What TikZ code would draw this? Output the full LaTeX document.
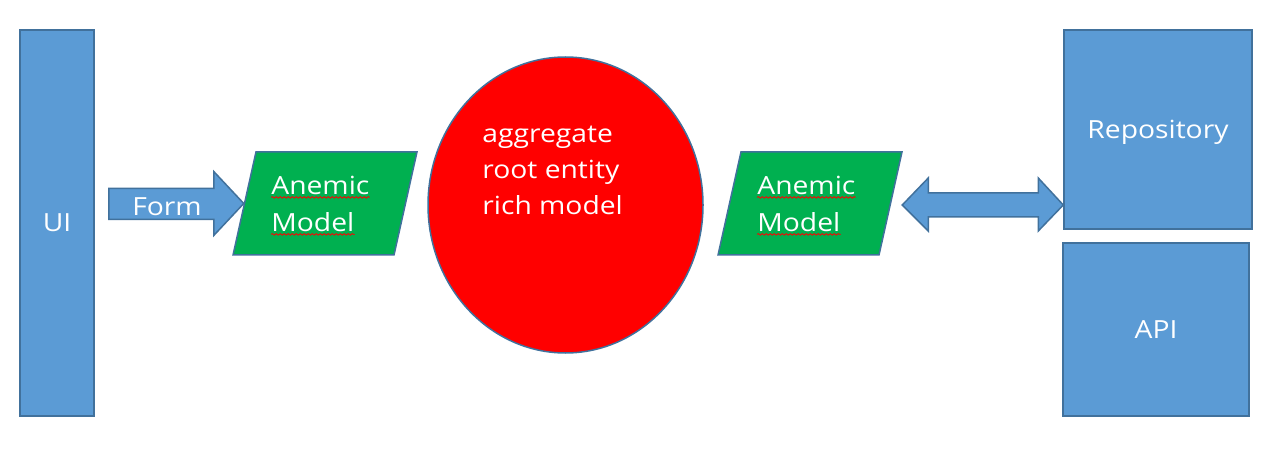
\documentclass[tikz,border=0pt]{standalone}
\usepackage{fontspec}
\setmainfont[FakeStretch=1.13]{Open Sans}
\usepackage{tikz}
\usetikzlibrary{shapes.geometric, decorations.pathmorphing}

\definecolor{boxblue}{HTML}{5B9BD5}
\definecolor{edgeblue}{HTML}{41719C}
\definecolor{modelgreen}{HTML}{00B050}

\begin{document}
\begin{tikzpicture}[
  x=0.5pt, y=-0.5pt,
  box/.style={draw=edgeblue, line width=0.75pt, fill=boxblue, text=white,
              text depth=0pt, font=\fontsize{12.5}{15}\selectfont},
  model/.style={rectangle, xslant=0.223, draw=edgeblue, line width=0.75pt,
                fill=modelgreen, minimum width=80.5pt, minimum height=51.5pt, inner sep=0pt},
  txt/.style={text=white, inner sep=0pt, font=\fontsize{12.5}{18}\selectfont},
  fat/.style={draw=edgeblue, line width=0.75pt, fill=boxblue},
  typo/.style={draw=red, line width=0.4pt, decorate,
               decoration={snake, amplitude=0.4pt, segment length=2pt}}
]
\useasboundingbox (0,0) rectangle (1268,470);

\node[box, minimum width=37pt, minimum height=193pt] (ui) at (57,223) {UI};
\node[model] (am1) at (325,203.5) {};
\node[ellipse, draw=edgeblue, line width=0.75pt, fill=red,
      minimum width=137.5pt, minimum height=148pt] (agg) at (565.5,205) {};
\node[model] (am2) at (810,203.5) {};
\node[box, minimum width=94pt, minimum height=99.5pt] (repo) at (1158,129.5) {Repository};
\node[box, minimum width=93pt, minimum height=86.5pt] (api) at (1156,329.5) {API};

\node[txt, anchor=base west] (am1a) at (271,195) {Anemic};
\node[txt, anchor=base west] (am1b) at (271,232) {Model};
\node[txt, anchor=base west] (am2a) at (757,195) {Anemic};
\node[txt, anchor=base west] (am2b) at (757,232) {Model};
\node[txt, align=left, anchor=west] (aggtxt) at (482,170) {aggregate\\root entity\\rich model};

\draw[typo] ([yshift=-1.2pt]am1a.base west) -- ([yshift=-1.2pt]am1a.base east);
\draw[typo] ([yshift=-1.2pt]am1b.base west) -- ([yshift=-1.2pt]am1b.base east);
\draw[typo] ([yshift=-1.2pt]am2a.base west) -- ([yshift=-1.2pt]am2a.base east);
\draw[typo] ([yshift=-1.2pt]am2b.base west) -- ([yshift=-1.2pt]am2b.base east);

\draw[fat] (am1.west) -- ++(-30,-32) -- ++(0,17) -- ++(-105,0) -- ++(0,31)
  -- ++(105,0) -- ++(0,16) -- cycle;
\node[txt] (form) at (167,207) {Form};

\draw[fat] (repo.west |- agg) -- ++(-25,26) -- ++(0,-14) -- ++(-110,0) -- ++(0,14)
  -- ++(-26,-26) -- ++(26,-27) -- ++(0,15) -- ++(110,0) -- ++(0,-15) -- cycle;
\end{tikzpicture}
\end{document}
